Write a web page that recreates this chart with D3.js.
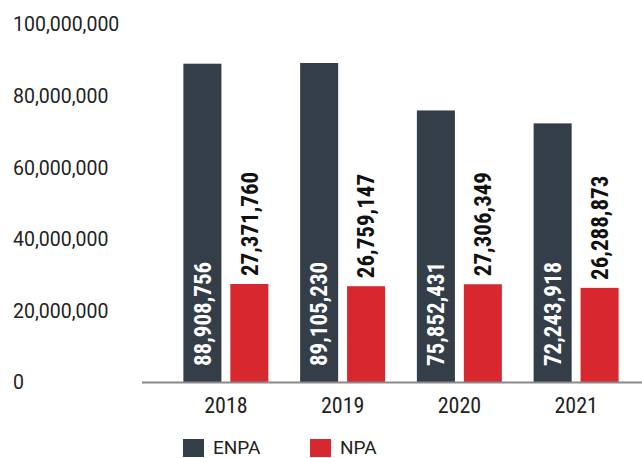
<!DOCTYPE html>
<html>
<head>
<meta charset="utf-8">
<style>
  body { margin: 0; background: #fff; }
</style>
</head>
<body>
<svg width="642" height="458"></svg>
<script src="https://cdn.jsdelivr.net/npm/d3@7"></script>
<script>

var years = ["2018", "2019", "2020", "2021"];
var keys = ["ENPA", "NPA"];
var enpa = [88908756, 89105230, 75852431, 72243918];
var npa = [27371760, 26759147, 27306349, 26288873];
var yTicks = [0, 20000000, 40000000, 60000000, 80000000, 100000000];

var colors = { ENPA: "#333e48", NPA: "#d7282f" };
var labelFont = "'Liberation Sans Narrow', 'Roboto Condensed', 'DejaVu Sans Condensed', sans-serif";

var svg = d3.select("svg");

var data = years.map(function(y, i) {
  return { year: y, ENPA: enpa[i], NPA: npa[i] };
});

var x0 = d3.scaleBand()
    .domain(years)
    .range([167.5, 634.5])
    .paddingInner(0.272)
    .paddingOuter(0.136);

var x1 = d3.scaleBand()
    .domain(keys)
    .range([0, x0.bandwidth()])
    .paddingInner(0.19);

var y = d3.scaleLinear()
    .domain([0, 100000000])
    .range([382, 24]);

var fmt = d3.format(",");

// y axis labels, left aligned
var yAxis = svg.append("g")
    .call(d3.axisLeft(y).tickValues(yTicks).tickSize(0).tickFormat(fmt));
yAxis.select(".domain").remove();
yAxis.selectAll("text")
    .attr("x", 13)
    .attr("dy", "0.35em")
    .style("text-anchor", "start")
    .style("font-family", "Roboto, sans-serif")
    .style("font-size", "19.5px")
    .style("fill", "#222");

var group = svg.selectAll(".grp")
    .data(data)
    .enter().append("g")
      .attr("class", "grp")
      .attr("transform", function(d) { return "translate(" + x0(d.year) + ",0)"; });

group.selectAll("rect")
    .data(function(d) { return keys.map(function(k) { return { key: k, value: d[k] }; }); })
    .enter().append("rect")
      .attr("x", function(d) { return x1(d.key); })
      .attr("y", function(d) { return y(d.value); })
      .attr("width", x1.bandwidth())
      .attr("height", function(d) { return y(0) - y(d.value); })
      .attr("fill", function(d) { return colors[d.key]; });

// value labels, rotated
group.selectAll(".val")
    .data(function(d) { return keys.map(function(k) { return { key: k, value: d[k] }; }); })
    .enter().append("text")
      .attr("class", "val")
      .attr("transform", function(d) {
        var cx = x1(d.key) + x1.bandwidth() / 2;
        var cy = d.key === "ENPA" ? y(0) - 16 : y(d.value) - 8;
        return "translate(" + cx + "," + cy + ") rotate(-90)";
      })
      .attr("dy", "0.36em")
      .style("font-family", labelFont)
      .style("font-weight", "bold")
      .style("font-size", "23px")
      .style("fill", function(d) { return d.key === "ENPA" ? "#fff" : "#111"; })
      .text(function(d) { return fmt(d.value); });

// baseline
svg.append("line")
    .attr("x1", 142)
    .attr("x2", 642)
    .attr("y1", y(0) + 0.5)
    .attr("y2", y(0) + 0.5)
    .attr("stroke", "#8a8a8a")
    .attr("stroke-width", 2);

// x labels
var xAxis = svg.append("g")
    .attr("transform", "translate(0," + (y(0) + 1) + ")")
    .call(d3.axisBottom(x0).tickSize(0));
xAxis.select(".domain").remove();
xAxis.selectAll("text")
    .attr("y", 14)
    .attr("dy", "0.71em")
    .style("font-family", labelFont)
    .style("font-size", "22px")
    .style("fill", "#222");

// legend
var legend = svg.selectAll(".legend")
    .data(keys)
    .enter().append("g")
      .attr("class", "legend")
      .attr("transform", function(d, i) { return "translate(" + (183 + i * 127) + ",439)"; });

legend.append("rect")
    .attr("width", 21)
    .attr("height", 18)
    .attr("fill", function(d) { return colors[d]; });

legend.append("text")
    .attr("x", 30)
    .attr("y", 8)
    .attr("dy", "0.35em")
    .style("font-family", "Roboto, sans-serif")
    .style("font-size", "19px")
    .style("fill", "#222")
    .text(function(d) { return d; });

</script>
</body>
</html>
